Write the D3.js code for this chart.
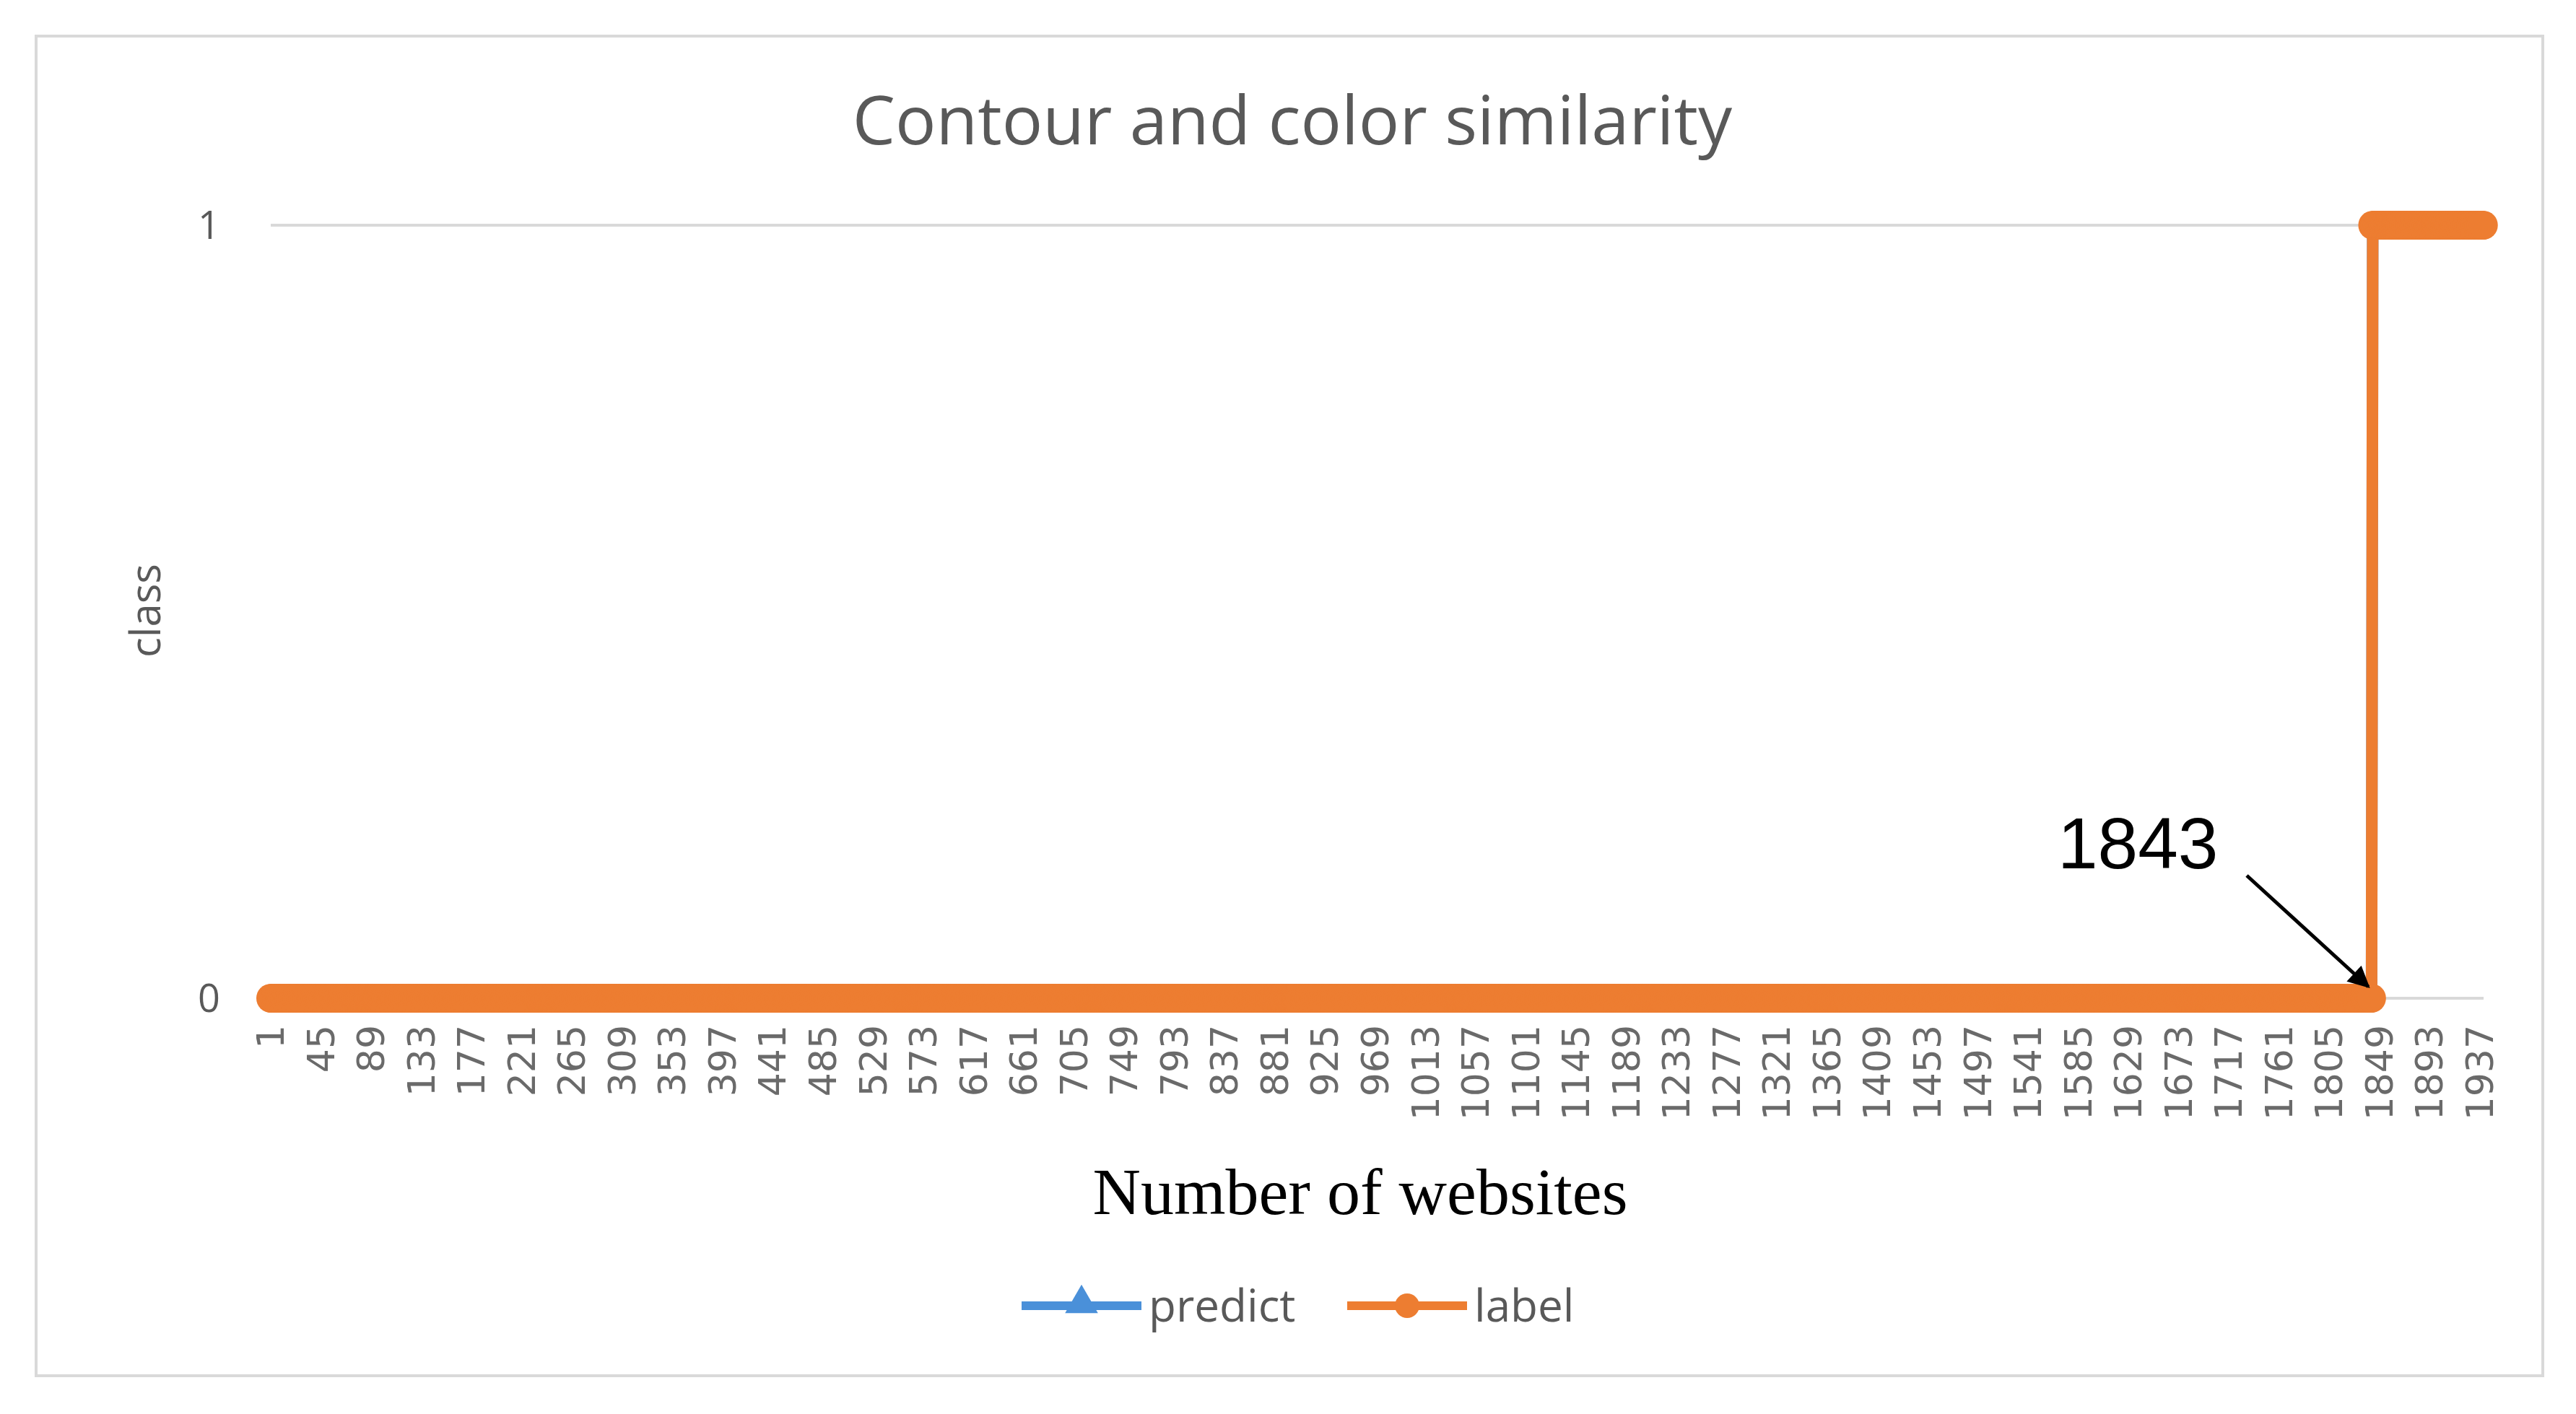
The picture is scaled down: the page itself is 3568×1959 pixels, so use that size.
<!DOCTYPE html>
<html><head><meta charset="utf-8">
<script src="https://cdn.jsdelivr.net/npm/d3@7"></script>
<style>body{margin:0;background:#fff}</style></head>
<body><svg id="c" width="3568" height="1959"></svg>
<script>
// Data
const title = "Contour and color similarity";
const xTitle = "Number of websites";
const yTitle = "class";
const totalWebsites = 1940;
const firstPhishing = 1843;           // label switches from 0 to 1 here
const tickLabels = d3.range(1, 1938, 44); // 1, 45, 89, ... 1937
const yTicks = [0, 1];
const seriesNames = ["predict", "label"];
const websites = d3.range(1, totalWebsites + 1);
const labelValues = websites.map(i => i < firstPhishing ? 0 : 1);
const predictValues = labelValues.slice();
const colors = {predict: "#4a90d9", label: "#ed7d31"};

const svg = d3.select("#c");
svg.append("rect").attr("x", 50).attr("y", 50).attr("width", 3472).attr("height", 1856)
  .attr("fill", "#fff").attr("stroke", "#d9d9d9").attr("stroke-width", 4);

const x = d3.scaleLinear().domain([1, 1937]).range([375, 3435]);
const y = d3.scaleLinear().domain([0, 1]).range([1383, 312]);

svg.append("text").attr("x", 1790).attr("y", 200).attr("text-anchor", "middle")
  .attr("font-family", "Open Sans, sans-serif").attr("font-size", 94).attr("fill", "#595959").text(title);

// gridlines
svg.selectAll(".grid").data(yTicks).join("line")
  .attr("x1", 375).attr("x2", 3440).attr("y1", d => y(d)).attr("y2", d => y(d))
  .attr("stroke", "#d9d9d9").attr("stroke-width", 4);
svg.selectAll(".yt").data(yTicks).join("text")
  .attr("x", 305).attr("y", d => y(d) + 19).attr("text-anchor", "end")
  .attr("font-family", "Open Sans, sans-serif").attr("font-size", 54).attr("fill", "#595959").text(d => d);

svg.append("text").attr("transform", "translate(222,846) rotate(-90)").attr("text-anchor", "middle")
  .attr("font-family", "Open Sans, sans-serif").attr("font-size", 58).attr("fill", "#595959").text(yTitle);

// x tick labels
svg.selectAll(".xt").data(tickLabels).join("text")
  .attr("transform", d => `translate(${x(d) + 18},1420) rotate(-90)`).attr("text-anchor", "end")
  .attr("font-family", "DejaVu Sans, sans-serif").attr("font-size", 52).attr("fill", "#6a6a6a").text(d => d);

svg.append("text").attr("x", 1884).attr("y", 1682).attr("text-anchor", "middle")
  .attr("font-family", "Liberation Serif, serif").attr("font-size", 92).attr("fill", "#000").text(xTitle);

// series
const line = d3.line().x((d, i) => x(websites[i])).y(d => y(d)).curve(d3.curveLinear);
svg.append("path").datum(predictValues).attr("d", line).attr("fill", "none")
  .attr("stroke", colors.predict).attr("stroke-width", 16);
svg.append("path").datum(labelValues).attr("d", line).attr("fill", "none")
  .attr("stroke", colors.label).attr("stroke-width", 16);
svg.append("g").selectAll("circle").data(labelValues).join("circle")
  .attr("cx", (d, i) => x(websites[i])).attr("cy", d => y(d)).attr("r", 20).attr("fill", colors.label);

// annotation
svg.append("defs").append("marker").attr("id", "ah").attr("viewBox", "0 0 10 10")
  .attr("refX", 9).attr("refY", 5).attr("markerWidth", 7).attr("markerHeight", 6)
  .attr("orient", "auto").append("path").attr("d", "M0,0L10,5L0,10z").attr("fill", "#000");
svg.append("text").attr("x", 2850).attr("y", 1203).attr("font-family", "Liberation Sans, Arial, sans-serif")
  .attr("font-size", 100).attr("fill", "#000").text(firstPhishing);
svg.append("line").attr("x1", 3112).attr("y1", 1213).attr("x2", x(firstPhishing) - 6).attr("y2", y(0) - 16)
  .attr("stroke", "#000").attr("stroke-width", 5).attr("marker-end", "url(#ah)");

// legend
const lg = svg.append("g");
const lx = [1415, 1866];
seriesNames.forEach((n, i) => {
  lg.append("line").attr("x1", lx[i]).attr("x2", lx[i] + 166).attr("y1", 1809).attr("y2", 1809)
    .attr("stroke", colors[n]).attr("stroke-width", 12);
  if (n === "label") lg.append("circle").attr("cx", lx[i] + 83).attr("cy", 1809).attr("r", 17).attr("fill", colors[n]);
  else lg.append("path").attr("d", d3.symbol(d3.symbolTriangle, 900)()).attr("transform", `translate(${lx[i] + 83},1806)`).attr("fill", colors[n]);
  lg.append("text").attr("x", lx[i] + 176).attr("y", 1831).attr("font-family", "Open Sans, sans-serif")
    .attr("font-size", 62).attr("fill", "#595959").text(n);
});
</script></body></html>
